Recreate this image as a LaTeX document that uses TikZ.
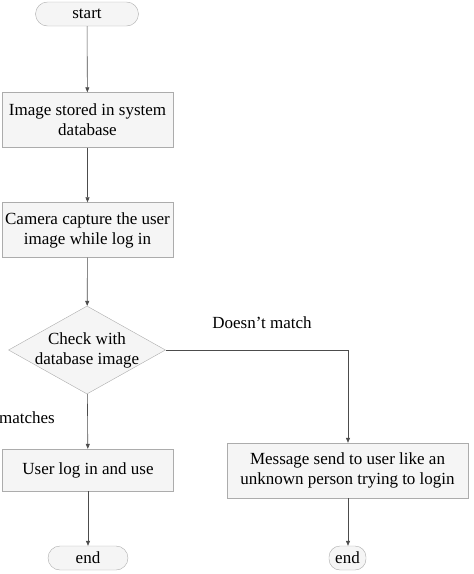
\documentclass[tikz,border=0pt]{standalone}
\usepackage{fontspec}
\setmainfont{Liberation Serif}
\usetikzlibrary{shapes.geometric,arrows.meta}
\begin{document}
\begin{tikzpicture}[x=1pt,y=-1pt,
  every node/.style={font=\fontsize{17}{20}\selectfont},
  box/.style={draw=gray!65,fill=gray!8,minimum width=171pt,minimum height=55pt,align=center,inner sep=0pt},
  term/.style={draw=gray!65,fill=gray!8,rounded corners=12pt,minimum height=24pt,inner sep=0pt},
  dec/.style={draw=gray!65,fill=gray!8,diamond,aspect=1.78,minimum width=157pt,minimum height=88pt,inner sep=0pt},
  arr/.style={draw=black!70,line width=0.6pt,-{Triangle[length=5pt,width=4pt]}},
  lbl/.style={inner sep=0pt}]
\useasboundingbox (0,0) rectangle (474,574);
\node[term,minimum width=103pt] (start) at (87,14) {start};
\node[box] (b1) at (87.5,120) {Image stored in system\\database};
\node[box] (b2) at (87.5,230) {Camera capture the user\\image while log in};
\node[dec] (d) at (87,350) {};
\node[lbl,align=center] (dt) at (87,350) {Check with\\database image};
\node[box,minimum height=42pt] (b3) at (88,470) {User log in and use};
\node[box,minimum width=241pt] (b4) at (347.5,470.5) {Message send to user like an\\unknown person trying to login};
\node[term,minimum width=80pt] (e1) at (88,558) {end};
\node[term,minimum width=37pt,rounded corners=11pt] (e2) at (347.5,558) {end};
\node[lbl] (lm) at (27,418) {matches};
\node[lbl] (ld) at (262,323) {Doesn’t match};
\coordinate (c) at (348,350);
\draw[arr] (start) -- (b1);
\draw[arr] (b1) -- (b2);
\draw[arr] (b2) -- (d);
\draw[arr] (d) -- (b3);
\draw[arr] (b3) -- (e1);
\draw[arr] (d.east) -- (c) -- (b4.north -| c);
\draw[arr] (b4.south -| c) -- (e2.north -| c);
\end{tikzpicture}
\end{document}
